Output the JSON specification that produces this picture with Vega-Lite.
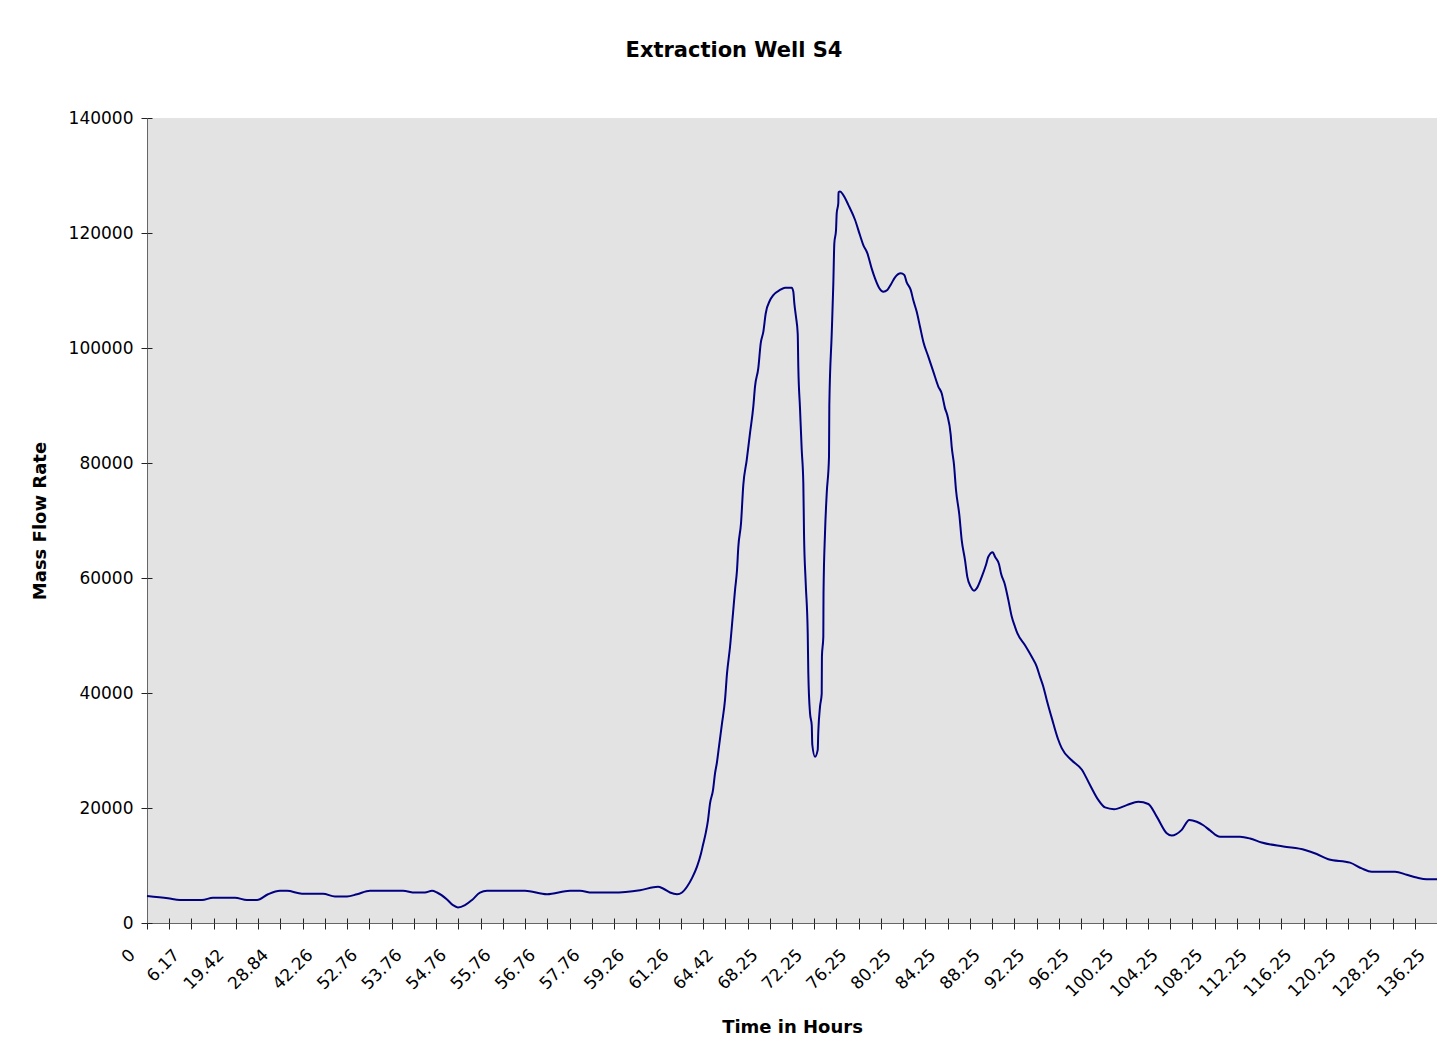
{
  "$schema": "https://vega.github.io/schema/vega-lite/v6.json",
  "width": 1290,
  "height": 805,
  "autosize": {"type": "none"},
  "padding": {"left": 147, "top": 118, "right": 0, "bottom": 133},
  "background": "white",
  "title": {"text": "Extraction Well S4", "anchor": "middle", "frame": "group", "dx": -58, "offset": 48, "font": "DejaVu Sans", "fontSize": 21, "fontWeight": "bold", "color": "black"},
  "config": {
    "view": {"fill": "#E3E3E3", "stroke": null},
    "axis": {"labelFont": "DejaVu Sans", "labelFontSize": 17, "labelColor": "black", "titleFont": "DejaVu Sans", "titleFontSize": 18, "titleFontWeight": "bold", "titleColor": "black", "grid": false, "domainColor": "#666666", "tickColor": "#222222"}
  },
  "data": {"values": [
    {"sample": 0, "flow": 4700}, {"sample": 0.944, "flow": 4300}, {"sample": 1.484, "flow": 4000}, {"sample": 2.473, "flow": 4000},
    {"sample": 2.967, "flow": 4400}, {"sample": 3.957, "flow": 4400}, {"sample": 4.496, "flow": 4000}, {"sample": 4.946, "flow": 4000},
    {"sample": 5.44, "flow": 5000}, {"sample": 5.98, "flow": 5600}, {"sample": 6.295, "flow": 5600}, {"sample": 6.969, "flow": 5100},
    {"sample": 7.913, "flow": 5100}, {"sample": 8.453, "flow": 4600}, {"sample": 8.992, "flow": 4600}, {"sample": 9.442, "flow": 5000},
    {"sample": 10.027, "flow": 5600}, {"sample": 11.51, "flow": 5600}, {"sample": 12.05, "flow": 5300}, {"sample": 12.499, "flow": 5300},
    {"sample": 12.814, "flow": 5600}, {"sample": 13.039, "flow": 5300}, {"sample": 13.489, "flow": 4100}, {"sample": 13.758, "flow": 3100},
    {"sample": 13.983, "flow": 2700}, {"sample": 14.298, "flow": 3100}, {"sample": 14.613, "flow": 4000}, {"sample": 14.972, "flow": 5300},
    {"sample": 15.287, "flow": 5600}, {"sample": 16.996, "flow": 5600}, {"sample": 17.985, "flow": 5000}, {"sample": 19.019, "flow": 5600},
    {"sample": 19.469, "flow": 5600}, {"sample": 20.008, "flow": 5300}, {"sample": 20.952, "flow": 5300}, {"sample": 22.166, "flow": 5700},
    {"sample": 22.976, "flow": 6300}, {"sample": 23.2, "flow": 6000}, {"sample": 23.515, "flow": 5300}, {"sample": 23.83, "flow": 5000},
    {"sample": 24.055, "flow": 5300}, {"sample": 24.279, "flow": 6300}, {"sample": 24.504, "flow": 7800}, {"sample": 24.729, "flow": 9800},
    {"sample": 24.909, "flow": 12100}, {"sample": 24.999, "flow": 13600}, {"sample": 25.134, "flow": 15900}, {"sample": 25.224, "flow": 17900},
    {"sample": 25.314, "flow": 20800}, {"sample": 25.448, "flow": 23100}, {"sample": 25.538, "flow": 26000}, {"sample": 25.628, "flow": 28000},
    {"sample": 25.718, "flow": 30700}, {"sample": 25.853, "flow": 34700}, {"sample": 25.988, "flow": 38800}, {"sample": 26.078, "flow": 43400},
    {"sample": 26.213, "flow": 48000}, {"sample": 26.348, "flow": 53900}, {"sample": 26.438, "flow": 57900}, {"sample": 26.528, "flow": 61400},
    {"sample": 26.586, "flow": 65400}, {"sample": 26.707, "flow": 69500}, {"sample": 26.811, "flow": 76200}, {"sample": 26.964, "flow": 80500},
    {"sample": 27.112, "flow": 85200}, {"sample": 27.26, "flow": 89800}, {"sample": 27.337, "flow": 93300}, {"sample": 27.485, "flow": 96500},
    {"sample": 27.593, "flow": 100800}, {"sample": 27.71, "flow": 102800}, {"sample": 27.818, "flow": 106000}, {"sample": 28.011, "flow": 108300},
    {"sample": 28.16, "flow": 109200}, {"sample": 28.461, "flow": 110100}, {"sample": 28.686, "flow": 110500}, {"sample": 28.987, "flow": 110500},
    {"sample": 29.059, "flow": 109800}, {"sample": 29.104, "flow": 107800}, {"sample": 29.18, "flow": 105400}, {"sample": 29.257, "flow": 102500},
    {"sample": 29.284, "flow": 96700}, {"sample": 29.36, "flow": 89500}, {"sample": 29.437, "flow": 82300}, {"sample": 29.509, "flow": 76500},
    {"sample": 29.54, "flow": 67800}, {"sample": 29.617, "flow": 59100}, {"sample": 29.707, "flow": 50400}, {"sample": 29.734, "flow": 43400},
    {"sample": 29.81, "flow": 36500}, {"sample": 29.887, "flow": 34400}, {"sample": 29.913, "flow": 31000}, {"sample": 30.035, "flow": 28900},
    {"sample": 30.156, "flow": 30100}, {"sample": 30.183, "flow": 33300}, {"sample": 30.259, "flow": 37600}, {"sample": 30.336, "flow": 39900},
    {"sample": 30.345, "flow": 46300}, {"sample": 30.408, "flow": 49800}, {"sample": 30.417, "flow": 57300}, {"sample": 30.484, "flow": 67800},
    {"sample": 30.561, "flow": 74700}, {"sample": 30.664, "flow": 81100}, {"sample": 30.678, "flow": 90000}, {"sample": 30.786, "flow": 102500},
    {"sample": 30.858, "flow": 111200}, {"sample": 30.903, "flow": 118200}, {"sample": 30.979, "flow": 120500}, {"sample": 31.01, "flow": 123400},
    {"sample": 31.082, "flow": 125200}, {"sample": 31.091, "flow": 127100}, {"sample": 31.159, "flow": 127200}, {"sample": 31.307, "flow": 126600},
    {"sample": 31.532, "flow": 124900}, {"sample": 31.833, "flow": 122300}, {"sample": 32.058, "flow": 119600}, {"sample": 32.206, "flow": 117900},
    {"sample": 32.386, "flow": 116500}, {"sample": 32.584, "flow": 113800}, {"sample": 32.732, "flow": 112100}, {"sample": 32.926, "flow": 110400},
    {"sample": 33.106, "flow": 109800}, {"sample": 33.286, "flow": 110100}, {"sample": 33.452, "flow": 111100}, {"sample": 33.632, "flow": 112300},
    {"sample": 33.888, "flow": 113000}, {"sample": 34.05, "flow": 112700}, {"sample": 34.158, "flow": 111400}, {"sample": 34.338, "flow": 110100},
    {"sample": 34.455, "flow": 108300}, {"sample": 34.608, "flow": 106300}, {"sample": 34.756, "flow": 103700}, {"sample": 34.904, "flow": 101100},
    {"sample": 35.129, "flow": 98500}, {"sample": 35.354, "flow": 95900}, {"sample": 35.579, "flow": 93300}, {"sample": 35.732, "flow": 92100},
    {"sample": 35.88, "flow": 89500}, {"sample": 35.984, "flow": 88300}, {"sample": 36.136, "flow": 84900}, {"sample": 36.181, "flow": 82800},
    {"sample": 36.284, "flow": 79700}, {"sample": 36.374, "flow": 75300}, {"sample": 36.523, "flow": 71000}, {"sample": 36.63, "flow": 66600},
    {"sample": 36.779, "flow": 63100}, {"sample": 36.882, "flow": 60200}, {"sample": 37.035, "flow": 58500}, {"sample": 37.184, "flow": 57800},
    {"sample": 37.305, "flow": 58200}, {"sample": 37.53, "flow": 60200}, {"sample": 37.723, "flow": 62300}, {"sample": 37.827, "flow": 63700},
    {"sample": 38.025, "flow": 64500}, {"sample": 38.128, "flow": 63700}, {"sample": 38.308, "flow": 62400}, {"sample": 38.398, "flow": 60800},
    {"sample": 38.577, "flow": 58800}, {"sample": 38.726, "flow": 56200}, {"sample": 38.879, "flow": 53300}, {"sample": 39.027, "flow": 51500},
    {"sample": 39.131, "flow": 50400}, {"sample": 39.477, "flow": 48300}, {"sample": 39.778, "flow": 46300}, {"sample": 40.003, "flow": 44600},
    {"sample": 40.151, "flow": 42800}, {"sample": 40.3, "flow": 41100}, {"sample": 40.453, "flow": 38800}, {"sample": 40.691, "flow": 35500},
    {"sample": 40.96, "flow": 32000}, {"sample": 41.127, "flow": 30400}, {"sample": 41.577, "flow": 28300}, {"sample": 42.026, "flow": 26700},
    {"sample": 42.399, "flow": 24000}, {"sample": 42.773, "flow": 21400}, {"sample": 43.074, "flow": 20100}, {"sample": 43.479, "flow": 19800},
    {"sample": 44.05, "flow": 20500}, {"sample": 44.571, "flow": 21100}, {"sample": 45.021, "flow": 20700}, {"sample": 45.399, "flow": 18500},
    {"sample": 45.848, "flow": 15600}, {"sample": 46.073, "flow": 15200}, {"sample": 46.523, "flow": 16200}, {"sample": 46.864, "flow": 17900},
    {"sample": 47.197, "flow": 17600}, {"sample": 47.494, "flow": 17000}, {"sample": 47.795, "flow": 16100}, {"sample": 48.244, "flow": 15000},
    {"sample": 49.143, "flow": 15000}, {"sample": 49.593, "flow": 14700}, {"sample": 50.119, "flow": 14000}, {"sample": 51.09, "flow": 13300},
    {"sample": 52.066, "flow": 12700}, {"sample": 52.592, "flow": 12000}, {"sample": 53.114, "flow": 11100}, {"sample": 54.089, "flow": 10500},
    {"sample": 54.615, "flow": 9500}, {"sample": 55.065, "flow": 8900}, {"sample": 56.113, "flow": 8900}, {"sample": 56.639, "flow": 8400},
    {"sample": 57.088, "flow": 7900}, {"sample": 57.538, "flow": 7600}, {"sample": 58, "flow": 7600}
  ]},
  "layer": [
    {
      "mark": {"type": "line", "color": "#000080", "strokeWidth": 2, "interpolate": "monotone"},
      "encoding": {
        "x": {"field": "sample", "type": "quantitative", "scale": {"domain": [0, 58], "nice": false, "zero": false},
          "axis": {"orient": "bottom", "title": "Time in Hours", "titleX": 645, "titleY": 104, "titleBaseline": "middle", "titleAlign": "center",
            "values": [0,1,2,3,4,5,6,7,8,9,10,11,12,13,14,15,16,17,18,19,20,21,22,23,24,25,26,27,28,29,30,31,32,33,34,35,36,37,38,39,40,41,42,43,44,45,46,47,48,49,50,51,52,53,54,55,56,57,58],
            "labelExpr": "datum.value % 2 == 0 ? ['0','6.17','19.42','28.84','42.26','52.76','53.76','54.76','55.76','56.76','57.76','59.26','61.26','64.42','68.25','72.25','76.25','80.25','84.25','88.25','92.25','96.25','100.25','104.25','108.25','112.25','116.25','120.25','128.25','136.25'][datum.value / 2] : ''",
            "labelAngle": -45, "labelAlign": "right", "labelBaseline": "middle", "labelPadding": 23, "labelOffset": -15,
            "labelFlush": false, "labelOverlap": false, "labelBound": false, "tickSize": 6, "tickWidth": 1, "domainWidth": 1}},
        "y": {"field": "flow", "type": "quantitative", "scale": {"domain": [0, 140000], "nice": false},
          "axis": {"orient": "left", "title": "Mass Flow Rate", "titleX": -107, "titleY": 402.5, "titleAngle": -90, "titleBaseline": "middle", "titleAlign": "center",
            "values": [0, 20000, 40000, 60000, 80000, 100000, 120000, 140000], "format": "d",
            "labelPadding": 8, "tickSize": 6, "labelFlush": false, "labelOverlap": false, "domainWidth": 1}}
      }
    },
    {
      "mark": {"type": "line", "strokeOpacity": 0, "interpolate": "monotone"},
      "encoding": {
        "x": {"field": "sample", "type": "quantitative",
          "axis": {"orient": "bottom", "title": null, "labels": false, "domain": false, "tickSize": -5,
            "values": [0,1,2,3,4,5,6,7,8,9,10,11,12,13,14,15,16,17,18,19,20,21,22,23,24,25,26,27,28,29,30,31,32,33,34,35,36,37,38,39,40,41,42,43,44,45,46,47,48,49,50,51,52,53,54,55,56,57]}},
        "y": {"field": "flow", "type": "quantitative",
          "axis": {"orient": "left", "title": null, "labels": false, "domain": false, "tickSize": -5,
            "values": [0, 20000, 40000, 60000, 80000, 100000, 120000, 140000]}}
      }
    }
  ],
  "resolve": {"axis": {"x": "independent", "y": "independent"}}
}
